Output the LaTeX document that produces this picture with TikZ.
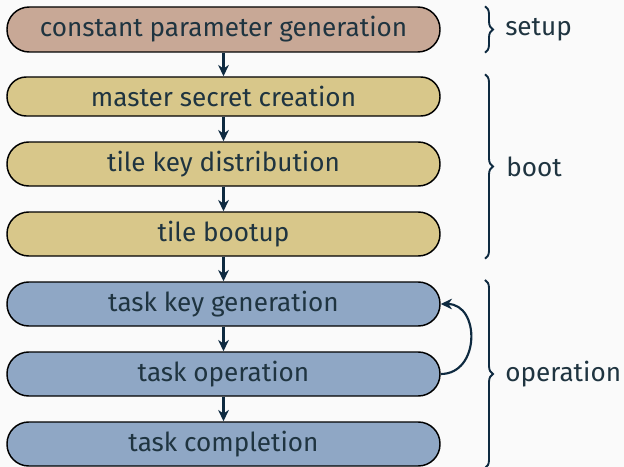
\documentclass[tikz,border=0pt]{standalone}
\usepackage{fontspec}
\setmainfont{Fira Sans}
\usetikzlibrary{arrows.meta,decorations.pathreplacing,calc}
\definecolor{bgc}{HTML}{FAFAFA}
\definecolor{txt}{HTML}{1F3440}
\definecolor{lnc}{HTML}{0E2A40}
\definecolor{setupc}{HTML}{C8A896}
\definecolor{bootc}{HTML}{D8C78A}
\definecolor{opc}{HTML}{8FA7C5}
\begin{document}
\begin{tikzpicture}[x=0.75pt,y=-0.75pt,
  font=\fontsize{19.6}{23}\selectfont, text=txt,
  phase/.style={draw=black, line width=1.1pt, rectangle,
    minimum width=324.75pt, inner sep=0pt, text=txt},
  tall/.style={minimum height=33pt, rounded corners=16.3pt},
  short/.style={minimum height=29.25pt, rounded corners=14.4pt},
  top/.style={minimum height=33.75pt, rounded corners=16.7pt},
  flow/.style={draw=lnc, line width=1.6pt, -{Stealth[length=8.5pt,width=8pt]}},
  brc/.style={draw=lnc, line width=1.4pt, decorate,
    decoration={brace, amplitude=6pt}},
  lbl/.style={anchor=west, inner sep=0pt, text=txt}]
\fill[bgc] (0,0) rectangle (624,467);
\useasboundingbox (0,0) rectangle (624,467);
\node[phase, top, fill=setupc] (p1) at (223.5,29.5) {constant parameter generation};
\node[phase, short, fill=bootc] (p2) at (223.5,96.5) {master secret creation};
\node[phase, tall, fill=bootc] (p3) at (223.5,164) {tile key distribution};
\node[phase, tall, fill=bootc] (p4) at (223.5,234) {tile bootup};
\node[phase, tall, fill=opc] (p5) at (223.5,304) {task key generation};
\node[phase, tall, fill=opc] (p6) at (223.5,374) {task operation};
\node[phase, tall, fill=opc] (p7) at (223.5,444) {task completion};
\draw[flow] (p1) -- (p2);
\draw[flow] (p2) -- (p3);
\draw[flow] (p3) -- (p4);
\draw[flow] (p4) -- (p5);
\draw[flow] (p5) -- (p6);
\draw[flow] (p6) -- (p7);
\draw[flow] (p6.east) to[out=0,in=0,looseness=1.45] (p5.east);
\coordinate (bx) at (485,0);
\coordinate (s1) at (p1.north -| bx);
\coordinate (s2) at (p1.south -| bx);
\coordinate (b1) at ([yshift=1.5pt]p2.north -| bx);
\coordinate (b2) at ([yshift=-1.5pt]p4.south -| bx);
\coordinate (o1) at ([yshift=1pt]p5.north -| bx);
\coordinate (o2) at ([yshift=-1pt]p7.south -| bx);
\draw[brc] (s1) -- (s2);
\draw[brc] (b1) -- (b2);
\draw[brc] (o1) -- (o2);
\node[lbl] (ls) at ($ (s1)!0.5!(s2) + (20,0) $) {setup};
\node[lbl] (lb) at ($ (b1)!0.5!(b2) + (21,0) $) {boot};
\node[lbl] (lo) at ($ (o1)!0.5!(o2) + (20,0) $) {operation};
\end{tikzpicture}
\end{document}
